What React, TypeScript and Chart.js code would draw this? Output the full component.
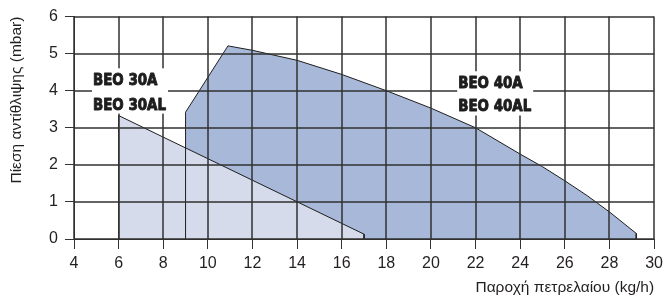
import React, { useEffect, useRef } from "react";
import { Chart, registerables } from "chart.js";

Chart.register(...registerables);

// ---- Axes ----
const xMin = 4;
const xMax = 30;
const xStep = 2;
const yMin = 0;
const yMax = 6;
const yStep = 1;
const xTitle = "Παροχή πετρελαίου (kg/h)";
const yTitle = "Πίεση αντίθλιψης (mbar)";

// ---- BEO 30A / 30AL working range (flow kg/h, pressure mbar) ----
const beo30Flow = [6, 6, 17, 17];
const beo30Pressure = [0, 3.33, 0.13, 0];

// ---- BEO 40A / 40AL working range ----
const beo40Flow = [9, 9, 10.9, 12, 14, 16, 18, 20, 22, 24, 25, 26, 27, 28, 29.2, 29.2];
const beo40Pressure = [0, 3.42, 5.21, 5.09, 4.82, 4.44, 4.0, 3.53, 3.0, 2.29, 1.95, 1.57, 1.17, 0.73, 0.15, 0];

// ---- Grid positions (same as tick values) ----
const xGridValues = [4, 6, 8, 10, 12, 14, 16, 18, 20, 22, 24, 26, 28, 30];
const yGridValues = [0, 1, 2, 3, 4, 5, 6];

// ---- Labels (anchored in data units) ----
const beo30Labels = ["BEO 30A", "BEO 30AL"];
const beo30LabelX = 4.85;
const beo30LabelY = [4.16, 3.49];
const beo40Labels = ["BEO 40A", "BEO 40AL"];
const beo40LabelX = 21.22;
const beo40LabelY = [4.08, 3.44];

// ---- Styles ----
const lightFill = "#d5dbeb";
const darkFill = "#a8b8d9";
const inkColor = "#1e1e1e";
const gridColor = "#303030";
const gridWidth = 1.5;
const axisColor = "#333333";
const textColor = "#231f20";
const tickFont = "'Liberation Sans', Arial, Helvetica, sans-serif";
const labelFont = "bold 16px 'Liberation Sans Narrow', 'DejaVu Sans Condensed', 'Arial Narrow', sans-serif";
const labelRefText = "BEO 40AL";
const labelRefWidth = 73;
const labelCap = 11.5;

const toPoints = (xs: number[], ys: number[]) => xs.map((v, i) => ({ x: v, y: ys[i] }));

// grid (drawn over the filled areas) + white-backed labels
const overlayPlugin = {
  id: "overlay",
  afterDraw(chart: any) {
    const ctx: CanvasRenderingContext2D = chart.ctx;
    const xs = chart.scales.x;
    const ys = chart.scales.y;
    const top = ys.getPixelForValue(yMax);
    const bottom = ys.getPixelForValue(yMin);
    const left = xs.getPixelForValue(xMin);
    const right = xs.getPixelForValue(xMax);

    ctx.save();
    ctx.strokeStyle = gridColor;
    ctx.lineWidth = gridWidth;
    ctx.globalAlpha = 1;
    ctx.setLineDash([]);
    for (const v of xGridValues) {
      const px = Math.round(xs.getPixelForValue(v));
      ctx.beginPath();
      ctx.moveTo(px, top);
      ctx.lineTo(px, bottom);
      ctx.stroke();
    }
    for (const v of yGridValues) {
      const py = Math.round(ys.getPixelForValue(v));
      ctx.beginPath();
      ctx.moveTo(left, py);
      ctx.lineTo(right, py);
      ctx.stroke();
    }
    ctx.restore();

    const groups = [
      { lines: beo30Labels, ax: beo30LabelX, ay: beo30LabelY },
      { lines: beo40Labels, ax: beo40LabelX, ay: beo40LabelY },
    ];
    ctx.save();
    ctx.font = labelFont;
    const sx = labelRefWidth / ctx.measureText(labelRefText).width;
    for (const g of groups) {
      const lx = xs.getPixelForValue(g.ax);
      const bases = g.ay.map((v: number) => ys.getPixelForValue(v));
      const widest = Math.max(...g.lines.map((t: string) => ctx.measureText(t).width)) * sx;
      const bt = bases[0] - labelCap - 5;
      const bb = bases[bases.length - 1] + 4;
      ctx.fillStyle = "#ffffff";
      ctx.fillRect(lx - 1, bt, widest + 3, bb - bt);
      g.lines.forEach((t: string, i: number) => {
        ctx.save();
        ctx.translate(lx, bases[i]);
        ctx.scale(sx, 1);
        ctx.fillStyle = inkColor;
        ctx.strokeStyle = inkColor;
        ctx.lineWidth = 0.9;
        ctx.lineJoin = "round";
        ctx.textBaseline = "alphabetic";
        ctx.fillText(t, 0, 0);
        ctx.strokeText(t, 0, 0);
        ctx.restore();
      });
    }
    ctx.restore();
  },
};

export default function App() {
  const ref = useRef<HTMLCanvasElement>(null);
  useEffect(() => {
    const chart = new Chart(ref.current as HTMLCanvasElement, {
      type: "line",
      data: {
        datasets: [
          {
            label: "BEO 40 outline",
            data: toPoints(beo40Flow, beo40Pressure),
            fill: false,
            borderColor: inkColor,
            borderWidth: 1,
            pointRadius: 0,
            tension: 0,
            order: 1,
          },
          {
            label: "BEO 30A / BEO 30AL",
            data: toPoints(beo30Flow, beo30Pressure),
            fill: "origin",
            backgroundColor: lightFill,
            borderColor: inkColor,
            borderWidth: 1,
            pointRadius: 0,
            tension: 0,
            order: 2,
          },
          {
            label: "BEO 40A / BEO 40AL",
            data: toPoints(beo40Flow, beo40Pressure),
            fill: "origin",
            backgroundColor: darkFill,
            borderColor: "rgba(0,0,0,0)",
            borderWidth: 1,
            pointRadius: 0,
            tension: 0,
            order: 3,
          },
        ],
      } as any,
      options: {
        animation: false,
        responsive: true,
        maintainAspectRatio: false,
        layout: { padding: { top: 14, right: 11, left: 0, bottom: 0 } },
        plugins: {
          legend: { display: false },
          tooltip: { enabled: false },
        },
        scales: {
          x: {
            type: "linear",
            min: xMin,
            max: xMax,
            ticks: {
              stepSize: xStep,
              color: textColor,
              font: { family: tickFont, size: 16 },
              padding: 5,
              maxRotation: 0,
              autoSkip: false,
            },
            grid: { color: axisColor, lineWidth: 1, tickLength: 10, drawOnChartArea: false },
            border: { display: true, color: axisColor },
            title: {
              display: true,
              text: xTitle,
              align: "end",
              color: textColor,
              font: { family: tickFont, size: 15.5 },
              padding: { top: 0, bottom: 6 },
            },
            afterFit: (s: any) => {
              s.height = 64;
            },
          },
          y: {
            type: "linear",
            min: yMin,
            max: yMax,
            ticks: {
              stepSize: yStep,
              color: textColor,
              font: { family: tickFont, size: 16 },
              padding: 7,
            },
            grid: { color: axisColor, lineWidth: 1, tickLength: 9, drawOnChartArea: false },
            border: { display: true, color: axisColor },
            title: {
              display: true,
              text: yTitle,
              align: "end",
              color: textColor,
              font: { family: tickFont, size: 15.5 },
              padding: { top: 7, bottom: 0 },
            },
            afterFit: (s: any) => {
              s.width = 74;
            },
          },
        },
      } as any,
      plugins: [overlayPlugin],
    });
    return () => chart.destroy();
  }, []);
  return (
    <div style={{ position: "fixed", left: 0, top: 0, width: 668, height: 303, background: "#fff" }}>
      <canvas ref={ref} />
    </div>
  );
}
